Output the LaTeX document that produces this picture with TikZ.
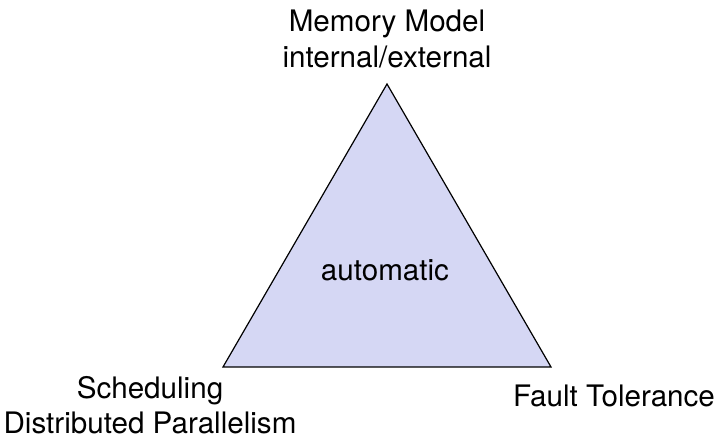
\documentclass[tikz,border=0pt]{standalone}
\usepackage{fontspec}
\setmainfont{TeX Gyre Heros}
\usetikzlibrary{positioning}
\definecolor{trifill}{RGB}{213,215,244}
\tikzset{x=0.5pt, y=0.5pt,
every node/.style={ % Sets the text of all labels
font=\fontsize{14.8}{17.6}\selectfont,
inner sep=0pt},
corner/.style={align=center},
tri/.style={ % Sets the look of the triangle
draw,
fill=trifill,
line width=0.6pt,
line join=miter}}

\begin{document}
\begin{tikzpicture}
\useasboundingbox (0,0) rectangle (717,442);
\coordinate (top) at (387,358);
\coordinate (left) at (223,75);
\coordinate (right) at (551,75);
\draw[tri] (top) -- (left) -- (right) -- cycle;
\node (center) [anchor=base] at (385,161) {automatic};
\node[corner] (memory) at (387,403) {Memory Model\\internal/external};
\node[corner] (sched) at (150,37) {Scheduling\\Distributed Parallelism};
\node[anchor=base] (fault) at (614,35) {Fault Tolerance};
\end{tikzpicture}
\end{document}
